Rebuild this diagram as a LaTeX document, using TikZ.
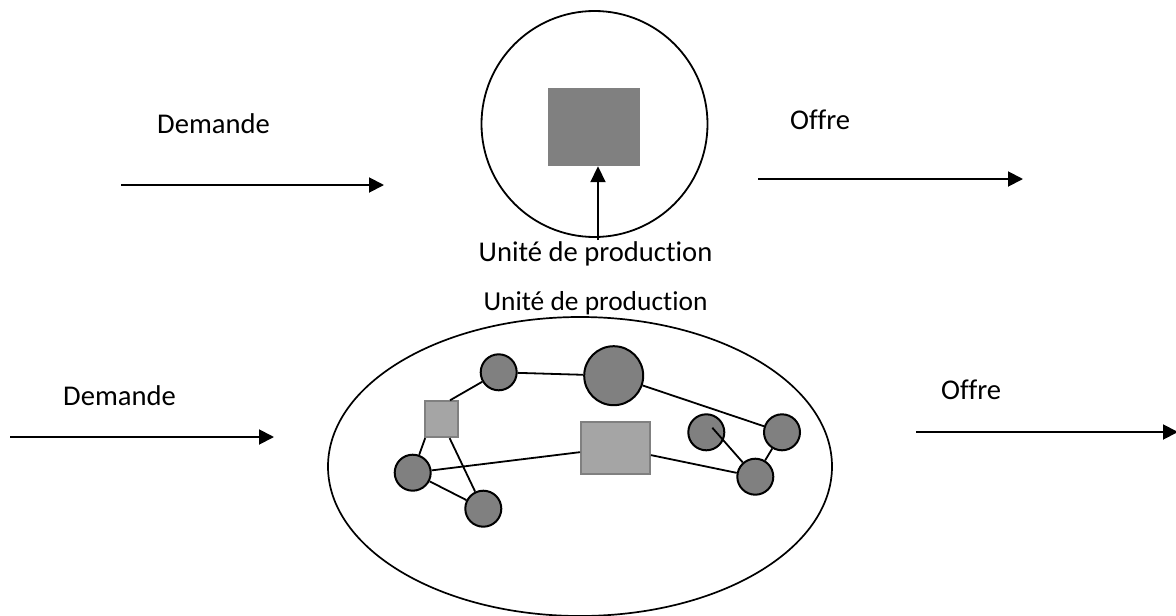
\documentclass[tikz,border=0pt]{standalone}
\usepackage{fontspec}
\setmainfont[Ligatures={NoCommon}]{Carlito}
\usetikzlibrary{arrows.meta,shapes.geometric}
\definecolor{unitgray}{HTML}{808080}
\definecolor{lightunit}{HTML}{A5A5A5}
\begin{document}
\begin{tikzpicture}[x=1pt,y=-1pt,
  lbl/.style={inner sep=0pt,font=\fontsize{28.6}{34}\selectfont},
  flow/.style={line width=1.9pt,-{Triangle[length=15pt,width=15pt]}},
  agent/.style={circle,draw=black,line width=2pt,fill=unitgray,inner sep=0pt,minimum size=#1},
  agent/.default=36pt,
  depot/.style={rectangle,draw=unitgray,line width=1.8pt,fill=lightunit,inner sep=0pt},
  link/.style={line width=1.8pt}]
\useasboundingbox (0,0) rectangle (1176,616);

% --- single production unit ---
\node[circle,draw,line width=1.8pt,minimum size=226pt,inner sep=0pt] (firm) at (594.5,124) {};
\node[fill=unitgray,inner sep=0pt,minimum width=92pt,minimum height=78pt] (unit) at (594,127) {};
\node[lbl,anchor=base] (lab1) at (595.5,261) {Unité de production};
\coordinate (labtop) at (598,240);
\draw[line width=1.9pt,-{Triangle[length=16pt,width=15pt]}] (labtop) -- (unit.south -| labtop);

\node[lbl,anchor=base west] (dem1) at (157,133) {Demande};
\node[lbl,anchor=base west] (off1) at (790,129) {Offre};
\coordinate (d1a) at (121,185);
\coordinate (d1b) at (384,185);
\coordinate (o1a) at (758,179);
\coordinate (o1b) at (1023,179);
\draw[flow] (d1a) -- (d1b);
\draw[flow] (o1a) -- (o1b);

% --- network of production units ---
\node[lbl,anchor=base,font=\fontsize{27.4}{32}\selectfont] (lab2) at (595.5,310) {Unité de production};
\node[ellipse,draw,line width=1.7pt,minimum width=504pt,minimum height=299pt,inner sep=0pt] (net) at (580,466.5) {};

\node[agent] (c1) at (498.7,372.3) {};
\node[agent=59pt] (c2) at (613.7,375.7) {};
\node[depot,minimum width=33pt,minimum height=36pt] (s1) at (441.6,419.2) {};
\node[agent] (c3) at (412.7,472.7) {};
\node[agent] (c4) at (483.3,508.7) {};
\node[depot,minimum width=69pt,minimum height=52pt] (s2) at (615.5,447.8) {};
\node[agent] (c5) at (706.3,432.3) {};
\node[agent] (c6) at (782,432.3) {};
\node[agent] (c7) at (755.3,476.7) {};

\draw[link] (s1.north east) ++(-9,0) -- (c1);
\draw[link] (c1) -- (c2);
\draw[link] (c2) -- (c6);
\draw[link] (s1.south west) ++(1,0) -- (c3);
\draw[link] (s1.south) ++(8,0) -- (c4);
\draw[link] (c3) -- (c4);
\draw[link] (c3) -- (s2);
\draw[link] (s2) -- (c7);
\draw[link] (c6) -- (c7);
\draw[link] ([shift={(6,-4.6)}]c5.center) -- (c7);

\node[lbl,anchor=base west] (dem2) at (63,405) {Demande};
\node[lbl,anchor=base west] (off2) at (941,399) {Offre};
\coordinate (d2a) at (10,437);
\coordinate (d2b) at (274,437);
\coordinate (o2a) at (916,432);
\coordinate (o2b) at (1178,432);
\draw[flow] (d2a) -- (d2b);
\draw[flow] (o2a) -- (o2b);
\end{tikzpicture}
\end{document}
